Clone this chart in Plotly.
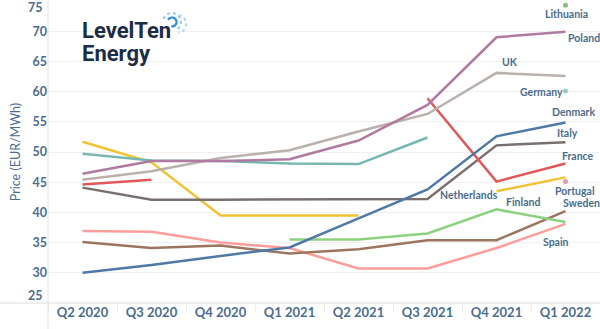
import plotly.graph_objects as go
import numpy as np

quarters = ["Q2 2020", "Q3 2020", "Q4 2020", "Q1 2021", "Q2 2021", "Q3 2021", "Q4 2021", "Q1 2022"]
N = None
denmark = [30.0, 31.3, 32.8, 34.2, 39.0, 43.8, 52.6, 54.9]
italy = [44.1, 42.1, 42.1, 42.1, 42.2, 42.2, 51.1, 51.6]
france = [44.6, 45.4, N, N, N, 58.9, 45.1, 48.1]
netherlands = [51.7, 48.3, 39.5, 39.5, 39.5, N, 43.5, 45.8]
uk = [45.4, 46.8, 49.0, 50.3, 53.4, 56.3, 63.1, 62.6]
poland = [46.4, 48.5, 48.5, 48.8, 51.9, 57.8, 69.0, 69.9]
germany = [49.7, 48.6, 48.5, 48.1, 48.0, 52.4, N, 60.1]
lithuania = [N, N, N, N, N, N, N, 74.3]
finland = [N, N, N, 35.5, 35.5, 36.5, 40.5, 38.4]
sweden = [35.1, 34.1, 34.5, 33.2, 33.9, 35.4, 35.4, 40.2]
spain = [36.9, 36.8, 35.0, 34.1, 30.7, 30.7, 34.1, 38.1]
portugal = [N, N, N, N, N, N, N, 45.1]

yticks = [25, 30, 35, 40, 45, 50, 55, 60, 65, 70, 75]

# name, values, color, label xshift, label yshift
series = [
    ("Spain", spain, "#ff9d9a", -10, -18),
    ("Sweden", sweden, "#9c755f", 16, 8),
    ("Finland", finland, "#8cd17d", -43, 20),
    ("Netherlands", netherlands, "#f1c232", -97, -18),
    ("Italy", italy, "#79706e", 2, 9),
    ("France", france, "#e15759", 12, 7),
    ("Germany", germany, "#76b7b2", -24, -1),
    ("UK", uk, "#bab0ac", -56, 14),
    ("Poland", poland, "#b07aa1", 18, -6),
    ("Denmark", denmark, "#4e79a7", 8, 10),
    ("Lithuania", lithuania, "#59a14f", 1, -9),
    ("Portugal", portugal, "#d37295", 9, -9),
]

TXT = "#4a6d8f"
L, R, T, B = 48, 0, 1, 26
W, H = 600, 329
PW, PH = W - L - R, H - T - B

def px(xp):
    return (xp - L) / PW

def py(yp):
    return (H - B - yp) / PH

fig = go.Figure()
annotations = []
for name, vals, color, xs, ys in series:
    sizes = []
    for i, v in enumerate(vals):
        prev = vals[i - 1] if i > 0 else None
        nxt = vals[i + 1] if i < len(vals) - 1 else None
        sizes.append(5 if (v is not None and prev is None and nxt is None) else 0)
    fig.add_trace(go.Scatter(
        x=quarters, y=vals, mode="lines+markers", name=name,
        line=dict(color=color, width=2.5),
        marker=dict(size=sizes, color=color, line=dict(width=0)),
        connectgaps=False, showlegend=False, hoverinfo="skip"))
    last_i = max(i for i, v in enumerate(vals) if v is not None)
    annotations.append(dict(
        x=last_i, y=vals[last_i], xref="x", yref="y", text=name, showarrow=False,
        xshift=xs, yshift=ys, xanchor="center", yanchor="middle",
        font=dict(family="Lato", size=10.5, color=TXT, weight=700)))

annotations.append(dict(x=0, y=25, xref="paper", yref="y", text="25", showarrow=False,
                        xanchor="right", yanchor="bottom", xshift=-3, yshift=-2,
                        font=dict(family="Lato", size=12.5, color=TXT, weight=700)))
annotations.append(dict(x=0, y=75, xref="paper", yref="y", text="75", showarrow=False,
                        xanchor="right", yanchor="top", xshift=-3, yshift=3,
                        font=dict(family="Lato", size=12.5, color=TXT, weight=700)))

annotations.append(dict(x=px(80), y=py(31), xref="paper", yref="paper", text="LevelTen",
                        showarrow=False, xanchor="left", yanchor="middle",
                        font=dict(family="Roboto", size=22, color="#1b2d45", weight=700)))
annotations.append(dict(x=px(80), y=py(53), xref="paper", yref="paper", text="Energy",
                        showarrow=False, xanchor="left", yanchor="middle",
                        font=dict(family="Roboto", size=22, color="#1b2d45", weight=700)))

shapes = []

def arc(cx, cy, r, a0, a1, n=24):
    a = np.radians(np.linspace(a0, a1, n))
    pts = [(px(cx + r * np.cos(t)), py(cy - r * np.sin(t))) for t in a]
    return "M " + " L ".join(f"{x:.5f},{y:.5f}" for x, y in pts)

shapes.append(dict(type="path", xref="paper", yref="paper", path=arc(172, 22, 4.5, 150, -100),
                   line=dict(color="#2a8be0", width=2.2)))
shapes.append(dict(type="path", xref="paper", yref="paper", path=arc(172, 22, 9, 160, -60),
                   line=dict(color="#8fcaf2", width=2, dash="dot")))
shapes.append(dict(type="path", xref="paper", yref="paper", path=arc(177, 24, 9, 80, -80),
                   line=dict(color="#a8d6f5", width=2, dash="dot")))

shapes.append(dict(type="line", xref="paper", yref="paper", x0=px(0), x1=1, y0=0, y1=0,
                   line=dict(color="#dcdcdc", width=1)))
shapes.append(dict(type="line", xref="paper", yref="paper", x0=0, x1=0, y0=py(H), y1=1,
                   line=dict(color="#e3e3e3", width=1)))

fig.update_layout(
    width=W, height=H, margin=dict(l=L, r=R, t=T, b=B),
    paper_bgcolor="white", plot_bgcolor="white",
    annotations=annotations, shapes=shapes,
    xaxis=dict(type="category", range=[-0.5, 7.5], showgrid=False, zeroline=False,
               ticks="outside", tickson="boundaries", ticklen=8, tickcolor="#ededed",
               tickfont=dict(family="Lato", size=13, color=TXT, weight=700), showline=False),
    yaxis=dict(range=[25, 75], tickvals=yticks,
               ticktext=["" if v in (25, 75) else str(v) for v in yticks],
               showgrid=True, gridcolor="#f0f0f0", gridwidth=1, zeroline=False, showline=False,
               tickfont=dict(family="Lato", size=12.5, color=TXT, weight=700),
               title=dict(text="Price (EUR/MWh)", standoff=9,
                          font=dict(family="Lato", size=12.5, color=TXT))),
)

fig.write_html("out.html")
